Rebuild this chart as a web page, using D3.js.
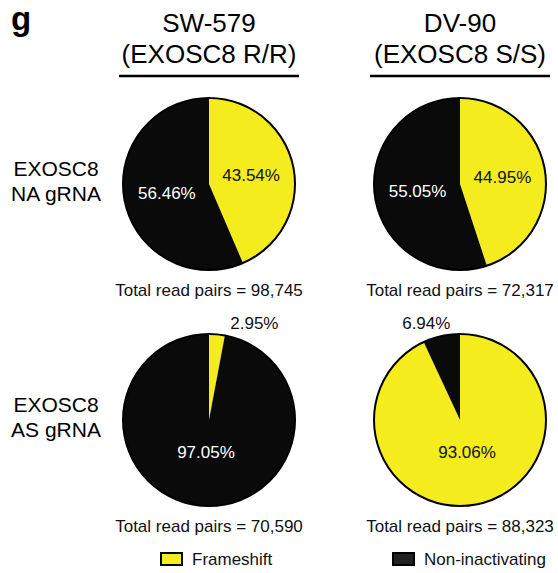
<!DOCTYPE html>
<html>
<head>
<meta charset="utf-8">
<script src="https://cdn.jsdelivr.net/npm/d3@7"></script>
<style>
  html, body { margin: 0; padding: 0; background: #fff; }
  svg { display: block; font-family: "Liberation Sans", Arial, sans-serif; }
</style>
</head>
<body>
<svg id="chart" width="558" height="573"></svg>
<script>
// Cell lines (columns) and guide RNAs (rows)
const cellLines = ["SW-579", "DV-90"];
const genotypes = ["(EXOSC8 R/R)", "(EXOSC8 S/S)"];
const guides = [["EXOSC8", "NA gRNA"], ["EXOSC8", "AS gRNA"]];

// Outcome categories
const categories = ["Frameshift", "Non-inactivating"];
const colors = ["#f5ec1e", "#0a0a0a"];

// Percent of reads per category, [row][column]
const frameshiftPct = [[43.54, 44.95], [2.95, 93.06]];
const nonInactivatingPct = [[56.46, 55.05], [97.05, 6.94]];
const totalReadPairs = [[98745, 72317], [70590, 88323]];

const svg = d3.select("#chart");

const colX = d3.scalePoint().domain(d3.range(cellLines.length)).range([209, 460]);
const rowY = d3.scalePoint().domain(d3.range(guides.length)).range([184, 420]);
const radius = 86;
const color = d3.scaleOrdinal().domain(categories).range(colors);
const fmt = d3.format(",");

// Panel label
svg.append("text").attr("x", 11).attr("y", 30)
  .attr("font-size", 33).attr("font-weight", "bold").text("g");

// Column headers with underline
cellLines.forEach((name, c) => {
  const cx = colX(c);
  svg.append("text").attr("x", cx).attr("y", 32).attr("text-anchor", "middle")
    .attr("font-size", 26).text(name);
  svg.append("text").attr("x", cx).attr("y", 63).attr("text-anchor", "middle")
    .attr("font-size", 26).text(genotypes[c]);
  svg.append("line").attr("x1", cx - 90).attr("x2", cx + 90)
    .attr("y1", 76).attr("y2", 76).attr("stroke", "#000").attr("stroke-width", 2.5);
});

// Row labels
guides.forEach((lines, r) => {
  const t = svg.append("text").attr("x", 56).attr("y", rowY(r) - 8)
    .attr("text-anchor", "middle").attr("font-size", 21);
  lines.forEach((ln, i) => t.append("tspan").attr("x", 56).attr("dy", i ? 25 : 0).text(ln));
});

const pie = d3.pie().sort(null).value(d => d.value);
const arc = d3.arc().innerRadius(0).outerRadius(radius);

guides.forEach((g, r) => {
  cellLines.forEach((cl, c) => {
    const data = [
      { key: categories[0], value: frameshiftPct[r][c] },
      { key: categories[1], value: nonInactivatingPct[r][c] }
    ];
    const cx = colX(c), cy = rowY(r);
    const grp = svg.append("g").attr("transform", `translate(${cx},${cy})`);
    const arcs = pie(data);

    grp.selectAll("path").data(arcs).join("path")
      .attr("d", arc)
      .attr("fill", d => color(d.data.key));
    grp.append("circle").attr("r", radius).attr("fill", "none")
      .attr("stroke", "#000").attr("stroke-width", 2);

    arcs.forEach(d => {
      const share = d.data.value;
      const txtColor = d.data.key === categories[1] ? "#fff" : "#111";
      if (share < 10) {
        // Small slice: label sits above the pie
        const a = (d.startAngle + d.endAngle) / 2;
        const px = Math.sin(a) * (radius + 14);
        grp.append("text").attr("x", px + 12).attr("y", -91)
          .attr("text-anchor", px > 0 ? "start" : "end")
          .attr("font-size", 17).attr("fill", "#111")
          .text(share.toFixed(2) + "%");
      } else {
        const lr = share > 90 ? radius * 0.38 : radius * 0.5;
        const la = d3.arc().innerRadius(lr).outerRadius(lr);
        const [lx, ly] = la.centroid(d);
        grp.append("text").attr("x", lx).attr("y", ly).attr("dy", "0.35em")
          .attr("text-anchor", "middle").attr("font-size", 17)
          .attr("fill", txtColor).text(share.toFixed(2) + "%");
      }
    });

    svg.append("text").attr("x", cx).attr("y", cy + 112).attr("text-anchor", "middle")
      .attr("font-size", 17).attr("fill", "#111")
      .text("Total read pairs = " + fmt(totalReadPairs[r][c]));
  });
});

// Legend
const legendX = [161, 393];
const legendFill = ["#f5ec1e", "#222"];
categories.forEach((cat, i) => {
  svg.append("rect").attr("x", legendX[i]).attr("y", 553).attr("width", 21).attr("height", 12)
    .attr("fill", legendFill[i]).attr("stroke", "#000").attr("stroke-width", 2);
  svg.append("text").attr("x", legendX[i] + 31).attr("y", 565)
    .attr("font-size", 17).attr("fill", "#111").text(cat);
});
</script>
</body>
</html>
